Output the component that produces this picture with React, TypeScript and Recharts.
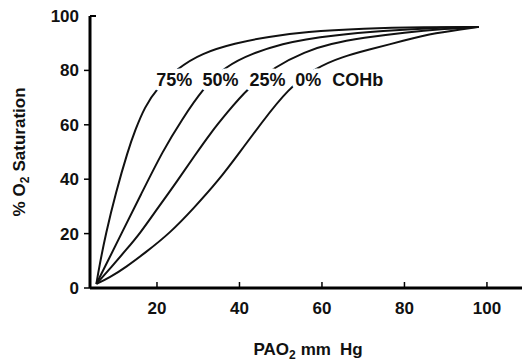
import React from 'react';
import { LineChart, Line, XAxis, YAxis, ReferenceDot, Label } from 'recharts';

// PAO2 (mm Hg) and % saturation, one pair of arrays per curve
const pao2Coh75 = [5.3, 6, 7.6, 10, 13, 14.7, 17, 20, 25, 30.8, 38.9, 47, 56, 70, 85, 98];
const sat75 = [1.5, 7.8, 20, 35, 50.7, 58, 66.5, 73.4, 80.8, 86.3, 90, 92.4, 94.2, 95.4, 95.9, 96];

const pao2Coh50 = [5.3, 7.4, 11.4, 16, 21.5, 26, 31.2, 36.5, 43, 51, 56, 62, 75, 87, 98];
const sat50 = [1.5, 7.8, 20.1, 34, 50.7, 61.8, 73.4, 81.4, 86.3, 90, 91.4, 92.8, 94.6, 95.6, 96];

const pao2Coh25 = [5.3, 9, 12.5, 15.9, 20, 25, 29.2, 33, 37, 42, 48.6, 55.9, 62, 70, 80, 90, 98];
const sat25 = [1.5, 7.8, 14, 20.1, 29, 39.5, 48.8, 57, 64.5, 73.4, 81.4, 86.9, 89.8, 92, 94, 95.3, 96];

const pao2Coh0 = [5.3, 8.5, 12.6, 17, 23.1, 29, 34.8, 40.1, 45, 51.8, 58.8, 65, 71, 80, 87, 98];
const sat0 = [1.5, 3.8, 7.8, 12.8, 20.1, 29.5, 39.3, 50, 60, 73.4, 81.2, 85, 87.5, 91, 93.7, 96];

const xTicks = [20, 40, 60, 80, 100];
const yTicks = [0, 20, 40, 60, 80, 100];

// curve labels: text, PAO2 position, saturation position
const curveLabels = ['75%', '50%', '25%', '0%', 'COHb'];
const curveLabelX = [24.2, 35.4, 46.8, 56.7, 68.7];
const curveLabelY = [76.5, 76.5, 76.5, 76.5, 76.5];

const toRows = (xs: number[], ys: number[]) => xs.map((p, i) => ({ p, s: ys[i] }));

const series = [
  toRows(pao2Coh75, sat75),
  toRows(pao2Coh50, sat50),
  toRows(pao2Coh25, sat25),
  toRows(pao2Coh0, sat0),
];

const font = '"Liberation Sans", Arial, sans-serif';

const YTick = ({ x, y, payload }: any) => (
  <g>
    {payload.value === 100 ? (
      <line x1={x} y1={y} x2={x + 6} y2={y} stroke="#000" strokeWidth={2} />
    ) : (
      <line x1={x - 6} y1={y} x2={x} y2={y} stroke="#000" strokeWidth={1.5} />
    )}
    <text x={x - 11} y={y} dy={6} textAnchor="end" fontFamily={font} fontSize={17} fontWeight="bold" fill="#111">
      {payload.value}
    </text>
  </g>
);

const XTick = ({ x, y, payload }: any) => (
  <g>
    <line x1={x} y1={y} x2={x} y2={y - 6} stroke="#000" strokeWidth={1.5} />
    <text x={x} y={y + 26} textAnchor="middle" fontFamily={font} fontSize={17} fontWeight="bold" fill="#111">
      {payload.value}
    </text>
  </g>
);

const LabelText = ({ cx, cy, text }: any) => (
  <text
    x={cx}
    y={cy}
    dy={6}
    textAnchor="middle"
    fontFamily={font}
    fontSize={18}
    fontWeight="bold"
    fill="#111"
    stroke="#fff"
    strokeWidth={9}
    paintOrder="stroke"
    strokeLinejoin="round"
  >
    {text}
  </text>
);

export default function App() {
  return (
    <div style={{ position: 'absolute', left: 0, top: 0, background: '#fff' }}>
      <LineChart width={525} height={362} margin={{ top: 16, right: 3, bottom: 0, left: 0 }}>
        <XAxis
          type="number"
          dataKey="p"
          domain={[3.76, 108.5]}
          allowDataOverflow
          ticks={xTicks}
          tick={<XTick />}
          tickLine={false}
          tickSize={0}
          tickMargin={0}
          height={74}
          axisLine={{ stroke: '#000', strokeWidth: 3 }}
        >
          <Label
            content={() => (
              <text x={308} y={355} textAnchor="middle" fontFamily={font} fontSize={17} fontWeight="bold" fill="#111">
                PAO
                <tspan fontSize={12} dy={4}>2</tspan>
                <tspan dy={-4} dx={5}>mm</tspan>
                <tspan dx={9}>Hg</tspan>
              </text>
            )}
          />
        </XAxis>
        <YAxis
          type="number"
          dataKey="s"
          domain={[0, 100]}
          ticks={yTicks}
          tick={<YTick />}
          tickLine={false}
          tickSize={0}
          tickMargin={0}
          width={90}
          axisLine={{ stroke: '#000', strokeWidth: 3 }}
        >
          <Label
            content={() => (
              <text
                x={19}
                y={152}
                transform="rotate(-90, 19, 152)"
                textAnchor="middle"
                dy={6}
                fontFamily={font}
                fontSize={17}
                fontWeight="bold"
                fill="#111"
              >
                %
                <tspan dx={5}>O</tspan>
                <tspan fontSize={12} dy={4}>2</tspan>
                <tspan dy={-4} dx={5}>Saturation</tspan>
              </text>
            )}
          />
        </YAxis>
        {series.map((rows, i) => (
          <Line
            key={i}
            data={rows}
            dataKey="s"
            type="basis"
            stroke="#111"
            strokeWidth={2}
            dot={false}
            isAnimationActive={false}
          />
        ))}
        {curveLabels.map((t, i) => (
          <ReferenceDot
            key={t}
            x={curveLabelX[i]}
            y={curveLabelY[i]}
            r={0}
            shape={(props: any) => <LabelText {...props} text={t} />}
          />
        ))}
      </LineChart>
    </div>
  );
}
